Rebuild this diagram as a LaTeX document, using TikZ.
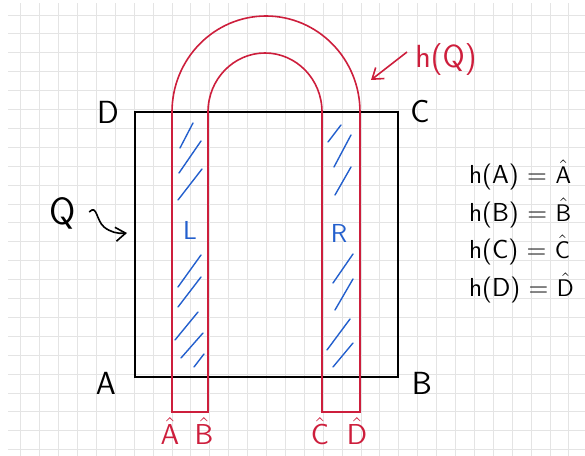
\documentclass[tikz,border=0pt]{standalone}
\usetikzlibrary{arrows.meta}

\definecolor{penred}{RGB}{205,30,60}
\definecolor{penblue}{RGB}{35,95,205}
\definecolor{gridgray}{RGB}{228,228,228}

\newcommand{\hatsf}[1]{$\hat{\mathsf{#1}}$}

\tikzset{
  gridline/.style={line width=0.4pt, gridgray},
  squareline/.style={line width=1pt, black},
  stripline/.style={line width=0.8pt, penred},
  hatchline/.style={line width=0.7pt, penblue, line cap=round},
  cornerlbl/.style={font=\sffamily\fontsize{16}{18}\selectfont},
  hatlbl/.style={font=\sffamily\fontsize{14}{16}\selectfont, text=penred},
  striplbl/.style={font=\sffamily\fontsize{13}{15}\selectfont, text=penblue},
  eqnlbl/.style={font=\sffamily\fontsize{13}{15}\selectfont, anchor=west},
}

\begin{document}
\begin{tikzpicture}[x=0.5pt,y=0.5pt]
\useasboundingbox (0,0) rectangle (585,456);

% squared paper
\foreach \i in {0,...,29}
  \draw[gridline] (20.7+18.9*\i,0) -- (20.7+18.9*\i,453);
\foreach \j in {0,...,23}
  \draw[gridline] (8,441-18.9*\j) -- (585,441-18.9*\j);

% the square Q
\coordinate (A) at (135,79);
\coordinate (B) at (398,79);
\coordinate (C) at (398,344);
\coordinate (D) at (135,344);
\draw[squareline] (A) -- (B) -- (C) -- (D) -- cycle;

\node[cornerlbl] (labA) at (106,73) {A};
\node[cornerlbl] (labB) at (422,73) {B};
\node[cornerlbl] (labC) at (420,344) {C};
\node[cornerlbl] (labD) at (108,344) {D};

\node[cornerlbl, font=\sffamily\fontsize{19}{21}\selectfont] (labQ) at (63,243) {Q};
\coordinate (qtip) at (127,223);
\draw[line width=0.8pt, -{Straight Barb[length=5pt,width=7pt]}]
  (labQ.east) ++(6,1) .. controls (97,252) and (96,236) .. (104,229)
  .. controls (110,224) and (118,222) .. (qtip);

% image h(Q): the horseshoe
\coordinate (Ahat) at (172,44);
\coordinate (Bhat) at (208,44);
\coordinate (Chat) at (322,44);
\coordinate (Dhat) at (360,44);
\coordinate (inL) at (208,344);
\coordinate (outR) at (360,344);
\draw[stripline] (Ahat) -- (Bhat) -- (inL)
  arc[start angle=180, end angle=0, x radius=57, y radius=59]
  -- (Chat) -- (Dhat) -- (outR)
  arc[start angle=0, end angle=180, x radius=94, y radius=96]
  -- cycle;

\node[hatlbl] (labAh) at (170,25) {\hatsf{A}};
\node[hatlbl] (labBh) at (204,25) {\hatsf{B}};
\node[hatlbl] (labCh) at (320,25) {\hatsf{C}};
\node[hatlbl] (labDh) at (357,25) {\hatsf{D}};

\node[cornerlbl, text=penred] (labhQ) at (446,396) {h(Q)};
\coordinate (hqtail) at (407,404);
\coordinate (hqtip) at (371,376);
\draw[stripline, -{Straight Barb[length=5pt,width=7pt]}] (hqtail) -- (hqtip);

% hatching of L and R
\foreach \xa/\ya/\xb/\yb in {180/148/193/123, 179/173/201/141, 178/200/202/169,
    178/287/201/255, 178/307/201/277, 175/340/198/312, 181/358/203/333, 194/367/204/354,
    328/142/341/125, 334/167/351/135, 335/195/351/167,
    333/283/353/254, 335/310/353/279, 327/350/350/319, 333/367/353/343}
  \draw[hatchline] (\xa,456-\ya) -- (\xb,456-\yb);

\node[striplbl] (labL) at (190,226) {L};
\node[striplbl] (labR) at (339,223) {R};

% images of the corners
\node[eqnlbl] (eqA) at (462,281) {h(A) = \hatsf{A}};
\node[eqnlbl] (eqB) at (462,243) {h(B) = \hatsf{B}};
\node[eqnlbl] (eqC) at (462,206) {h(C) = \hatsf{C}};
\node[eqnlbl] (eqD) at (462,168) {h(D) = \hatsf{D}};
\end{tikzpicture}
\end{document}
